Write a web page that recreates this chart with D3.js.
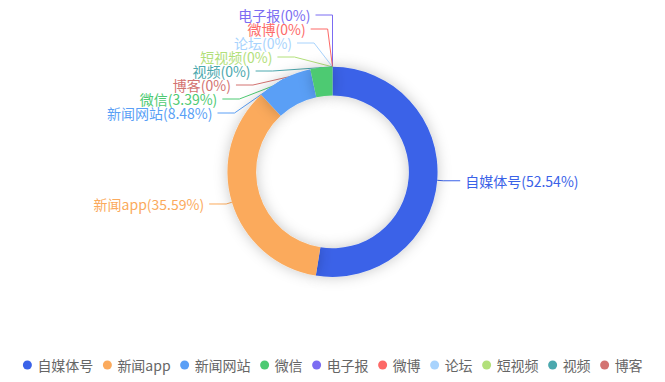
<!DOCTYPE html>
<html><head><meta charset="utf-8">
<script src="https://cdn.jsdelivr.net/npm/d3@7"></script>
<style>body{margin:0;background:#fff;}svg{display:block;font-family:"Noto Sans CJK SC","Noto Sans",sans-serif;}</style>
</head><body>
<svg id="chart" width="665" height="382"></svg>
<script>
// ---- data ----
const categories = ["自媒体号","新闻app","新闻网站","微信","电子报","微博","论坛","短视频","视频","博客"];
const values = [52.54, 35.59, 8.48, 3.39, 0, 0, 0, 0, 0, 0];
const colors = ["#3a62e8","#fbaa5c","#5a9ff6","#4dca72","#7b6cf2","#fd6967","#a8d3fd","#b2e07a","#4ba8ae","#d37371"];

// ---- layout ----
const W = 665, H = 382;
const cx = W / 2, cy = H * 0.45;
const base = Math.min(W, H) / 2;
const rInner = base * 0.40, rOuter = base * 0.55;
const len1 = 6, len2 = 17, gap = 5, lineH = 14, topBound = 15;
const fontSize = 14;

const svg = d3.select("#chart");
const defs = svg.append("defs");
const f = defs.append("filter").attr("id","sh").attr("filterUnits","userSpaceOnUse")
  .attr("x",-W).attr("y",-H).attr("width",2*W).attr("height",2*H);
f.append("feDropShadow").attr("dx",0).attr("dy",0).attr("stdDeviation",7)
  .attr("flood-color","#000").attr("flood-opacity",0.22);

const data = categories.map((c,i)=>({name:c, value:values[i], color:colors[i]}));
const pie = d3.pie().sort(null).value(d=>d.value).startAngle(0).endAngle(2*Math.PI);
const arcs = pie(data);
const arc = d3.arc().innerRadius(rInner).outerRadius(rOuter);

// label items
const items = arcs.map(a => {
  const mid = (a.startAngle + a.endAngle) / 2;
  const ux = Math.sin(mid), uy = -Math.cos(mid);
  const side = mid > Math.PI ? -1 : 1;
  return {
    a, side,
    sx: cx + rOuter*ux, sy: cy + rOuter*uy,
    nx: cx + (rOuter+len1)*ux, ny: cy + (rOuter+len1)*uy,
    label: `${a.data.name}(${a.data.value}%)`,
    color: a.data.color
  };
});

function layoutSide(list){
  list.sort((p,q)=>p.ny-q.ny);
  const clusters = list.map(it=>({items:[it]}));
  const place = c => {
    const n = c.items.length;
    const mean = d3.mean(c.items, d=>d.ny);
    c.top = Math.max(topBound, mean - (n-1)*lineH/2);
  };
  clusters.forEach(place);
  let changed = true;
  while(changed){
    changed = false;
    for(let i=0;i<clusters.length-1;i++){
      const p = clusters[i], q = clusters[i+1];
      if (p.top + p.items.length*lineH > q.top){
        p.items = p.items.concat(q.items);
        clusters.splice(i+1,1);
        place(p); changed = true; break;
      }
    }
  }
  clusters.forEach(c=>{
    const n = c.items.length;
    const tMax = (n-1)*lineH;
    const x0 = c.items[0].nx;
    c.items.forEach((it,i)=>{
      if (n === 1){ it.y = it.ny; it.bx = it.nx; }
      else {
        it.y = c.top + i*lineH;
        const t = it.y - c.top;
        const s = Math.sin(Math.PI*t/(2*tMax));
        it.bx = x0 + it.side * tMax * s * s;
      }
    });
  });
}
layoutSide(items.filter(d=>d.side<0));
layoutSide(items.filter(d=>d.side>0));

// label lines (beneath slices)
const lineG = svg.append("g");
items.forEach(it=>{
  lineG.append("polyline")
    .attr("points", [[it.sx,it.sy],[it.bx,it.y],[it.bx+it.side*len2,it.y]].map(p=>p.join(",")).join(" "))
    .attr("fill","none").attr("stroke",it.color).attr("stroke-width",1);
});

// slices
const sliceG = svg.append("g").attr("transform",`translate(${cx},${cy})`);
arcs.filter(a=>a.data.value>0).forEach(a=>{
  sliceG.append("path").attr("d",arc(a)).attr("fill",a.data.color).attr("filter","url(#sh)");
});

// labels
const labG = svg.append("g");
items.forEach(it=>{
  labG.append("text")
    .attr("x", it.bx + it.side*(len2+gap))
    .attr("y", it.y)
    .attr("text-anchor", it.side<0 ? "end" : "start")
    .attr("dominant-baseline","central")
    .attr("font-size", fontSize)
    .attr("fill", it.color)
    .text(it.label);
});

// legend
const legendY = 365, iconR = 4.5, iconW = 10, textGap = 5, itemGap = 9;
const legG = svg.append("g");
const legItems = data.map(d=>{
  const g = legG.append("g");
  g.append("circle").attr("cx",iconW/2).attr("cy",0).attr("r",iconR).attr("fill",d.color);
  const t = g.append("text").attr("x",iconW+textGap).attr("y",0)
    .attr("dominant-baseline","central").attr("font-size",fontSize).attr("fill","#666").text(d.name);
  const w = iconW + textGap + t.node().getComputedTextLength();
  return {g, w};
});
const total = d3.sum(legItems, d=>d.w) + itemGap*(legItems.length-1);
let x = (W - total)/2;
legItems.forEach(li=>{ li.g.attr("transform",`translate(${x},${legendY})`); x += li.w + itemGap; });
</script>
</body></html>
